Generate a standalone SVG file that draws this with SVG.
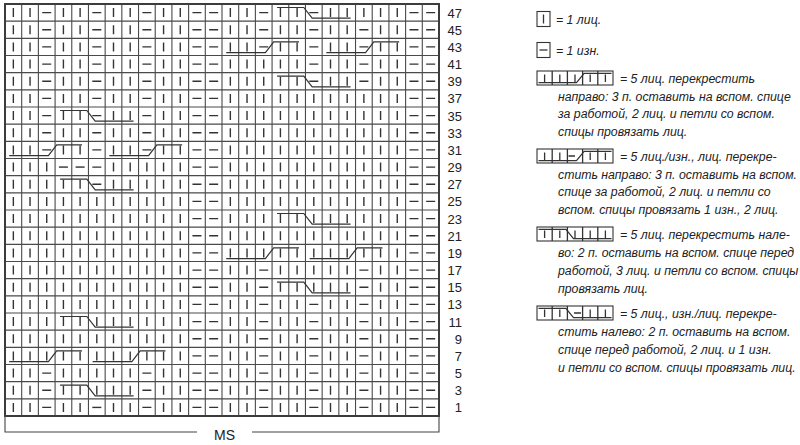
<svg xmlns="http://www.w3.org/2000/svg" width="800" height="445" viewBox="0 0 800 445">
<style>
.bg{fill:#fff}
.grid{fill:none;stroke:#4a4a4a;stroke-width:1.1}
.border{fill:none;stroke:#3c3c3c;stroke-width:2}
.k{stroke:#333;stroke-width:1.4;stroke-dasharray:9 8.167;fill:none}
.p{stroke:#333;stroke-width:9;stroke-dasharray:1.4 15.767;fill:none}
.cab{fill:none;stroke:#333;stroke-width:1.2}
.num{font-family:"Liberation Sans",Arial,sans-serif;font-size:13px;fill:#222;text-anchor:end}
.ms{font-family:"Liberation Sans",Arial,sans-serif;font-size:14px;fill:#222;text-anchor:middle}
.lg{font-family:"Liberation Sans",Arial,sans-serif;font-size:12.3px;font-style:italic;fill:#222}
.box{fill:#fff;stroke:#333;stroke-width:1.1}
.m{stroke:#333;stroke-width:1.3;fill:none}
.br{fill:none;stroke:#444;stroke-width:1.1}
</style>
<defs>
<path id="lc" class="cab" d="M5,3.5H31.7L40.1,14.2H78.5"/>
<path id="rc" class="cab" d="M4.2,14.2H43.4L51.7,3.5H77"/>
</defs>
<rect class="bg" x="0" y="0" width="800" height="445"/>
<g id="chart">
<g id="grid">
<path class="grid" d="M21.69 4V416M38.38 4V416M55.08 4V416M71.77 4V416M88.46 4V416M105.15 4V416M121.84 4V416M138.54 4V416M155.23 4V416M171.92 4V416M188.61 4V416M205.3 4V416M222 4V416M238.69 4V416M255.38 4V416M272.07 4V416M288.76 4V416M305.46 4V416M322.15 4V416M338.84 4V416M355.53 4V416M372.22 4V416M388.92 4V416M405.61 4V416M422.3 4V416M5 21.17H439M5 38.33H439M5 55.5H439M5 72.67H439M5 89.83H439M5 107H439M5 124.17H439M5 141.33H439M5 158.5H439M5 175.67H439M5 192.83H439M5 210H439M5 227.17H439M5 244.33H439M5 261.5H439M5 278.67H439M5 295.83H439M5 313H439M5 330.17H439M5 347.33H439M5 364.5H439M5 381.67H439M5 398.83H439"/>
<rect class="border" x="5" y="4" width="434" height="412"/>
</g>
<g id="knit">
<line class="k" x1="13.35" y1="8.08" x2="13.35" y2="411.92"/>
<line class="k" x1="30.04" y1="8.08" x2="30.04" y2="411.92"/>
<line class="k" x1="46.73" y1="162.58" x2="46.73" y2="360.42"/>
<line class="k" x1="63.42" y1="8.08" x2="63.42" y2="154.42"/>
<line class="k" x1="63.42" y1="179.75" x2="63.42" y2="411.92"/>
<line class="k" x1="80.11" y1="8.08" x2="80.11" y2="154.42"/>
<line class="k" x1="80.11" y1="179.75" x2="80.11" y2="411.92"/>
<line class="k" x1="96.81" y1="196.92" x2="96.81" y2="394.75"/>
<line class="k" x1="113.5" y1="8.08" x2="113.5" y2="411.92"/>
<line class="k" x1="130.19" y1="8.08" x2="130.19" y2="411.92"/>
<line class="k" x1="146.88" y1="162.58" x2="146.88" y2="360.42"/>
<line class="k" x1="163.57" y1="8.08" x2="163.57" y2="411.92"/>
<line class="k" x1="180.27" y1="8.08" x2="180.27" y2="411.92"/>
<line class="k" x1="230.34" y1="8.08" x2="230.34" y2="411.92"/>
<line class="k" x1="247.03" y1="8.08" x2="247.03" y2="411.92"/>
<line class="k" x1="263.73" y1="59.58" x2="263.73" y2="257.42"/>
<line class="k" x1="280.42" y1="8.08" x2="280.42" y2="411.92"/>
<line class="k" x1="297.11" y1="8.08" x2="297.11" y2="411.92"/>
<line class="k" x1="313.8" y1="93.92" x2="313.8" y2="291.75"/>
<line class="k" x1="330.5" y1="8.08" x2="330.5" y2="411.92"/>
<line class="k" x1="347.19" y1="8.08" x2="347.19" y2="411.92"/>
<line class="k" x1="363.88" y1="8.08" x2="363.88" y2="17.08"/>
<line class="k" x1="363.88" y1="93.92" x2="363.88" y2="257.42"/>
<line class="k" x1="380.57" y1="8.08" x2="380.57" y2="411.92"/>
<line class="k" x1="397.26" y1="8.08" x2="397.26" y2="411.92"/>
</g>
<g id="purl">
<line class="p" x1="46.73" y1="11.88" x2="46.73" y2="150.62"/>
<line class="p" x1="46.73" y1="372.38" x2="46.73" y2="408.12"/>
<line class="p" x1="63.42" y1="166.38" x2="63.42" y2="167.78"/>
<line class="p" x1="80.11" y1="166.38" x2="80.11" y2="167.78"/>
<line class="p" x1="96.81" y1="11.88" x2="96.81" y2="184.95"/>
<line class="p" x1="96.81" y1="406.72" x2="96.81" y2="408.12"/>
<line class="p" x1="146.88" y1="11.88" x2="146.88" y2="150.62"/>
<line class="p" x1="146.88" y1="372.38" x2="146.88" y2="408.12"/>
<line class="p" x1="196.96" y1="11.88" x2="196.96" y2="408.12"/>
<line class="p" x1="213.65" y1="11.88" x2="213.65" y2="408.12"/>
<line class="p" x1="263.73" y1="11.88" x2="263.73" y2="47.62"/>
<line class="p" x1="263.73" y1="269.38" x2="263.73" y2="408.12"/>
<line class="p" x1="313.8" y1="11.88" x2="313.8" y2="81.95"/>
<line class="p" x1="313.8" y1="303.72" x2="313.8" y2="408.12"/>
<line class="p" x1="363.88" y1="29.05" x2="363.88" y2="81.95"/>
<line class="p" x1="363.88" y1="269.38" x2="363.88" y2="408.12"/>
<line class="p" x1="413.96" y1="11.88" x2="413.96" y2="408.12"/>
<line class="p" x1="430.65" y1="11.88" x2="430.65" y2="408.12"/>
</g>
<g id="cables">
<use href="#lc" x="272.07" y="4"/>
<use href="#rc" x="222" y="38.33"/>
<use href="#rc" x="322.15" y="38.33"/>
<use href="#lc" x="272.07" y="72.67"/>
<use href="#lc" x="55.08" y="107"/>
<use href="#rc" x="5" y="141.33"/>
<use href="#rc" x="105.15" y="141.33"/>
<use href="#lc" x="55.08" y="175.67"/>
<use href="#lc" x="272.07" y="210"/>
<use href="#rc" x="222" y="244.33"/>
<use href="#rc" x="305.46" y="244.33"/>
<use href="#lc" x="272.07" y="278.67"/>
<use href="#lc" x="55.08" y="313"/>
<use href="#rc" x="5" y="347.33"/>
<use href="#rc" x="88.46" y="347.33"/>
<use href="#lc" x="55.08" y="381.67"/>
</g>
<g id="row-numbers" class="num">
<text x="462" y="17.5">47</text>
<text x="462" y="34.6">45</text>
<text x="462" y="51.8">43</text>
<text x="462" y="69">41</text>
<text x="462" y="86.2">39</text>
<text x="462" y="103.3">37</text>
<text x="462" y="120.5">35</text>
<text x="462" y="137.7">33</text>
<text x="462" y="154.8">31</text>
<text x="462" y="172">29</text>
<text x="462" y="189.2">27</text>
<text x="462" y="206.3">25</text>
<text x="462" y="223.5">23</text>
<text x="462" y="240.7">21</text>
<text x="462" y="257.8">19</text>
<text x="462" y="275">17</text>
<text x="462" y="292.2">15</text>
<text x="462" y="309.3">13</text>
<text x="462" y="326.5">11</text>
<text x="462" y="343.7">9</text>
<text x="462" y="360.8">7</text>
<text x="462" y="378">5</text>
<text x="462" y="395.2">3</text>
<text x="462" y="412.3">1</text>
</g>
<g id="repeat">
<path class="br" d="M5 416V432H197M252 432H439V416"/>
<text class="ms" x="224.5" y="439.5">MS</text>
</g>
</g>
<g id="legend">
<g id="legend-knit">
<rect class="box" x="537" y="11.5" width="13" height="15"/>
<line class="m" x1="543.5" y1="14.5" x2="543.5" y2="23.5"/>
<text class="lg" x="556" y="23.5">= 1 лиц.</text>
</g>
<g id="legend-purl">
<rect class="box" x="537" y="42.5" width="13" height="15"/>
<line class="m" x1="539.5" y1="50" x2="547.5" y2="50"/>
<text class="lg" x="556" y="54.5">= 1 изн.</text>
</g>
<g id="legend-rc">
<rect class="box" x="537" y="71" width="76" height="14"/>
<path class="m" d="M552.2 71V85M567.4 71V85M582.6 71V85M597.8 71V85"/>
<path class="m" d="M544.6 74.5V82M559.8 74.5V82M575 74.5V82M590.2 74.5V82M605.4 74.5V82"/>
<path class="cab" d="M538.5 82.7H576.5L584.1 73.3H611.5"/>
<text class="lg" x="620" y="82.5">= 5 лиц. перекрестить</text>
<text class="lg" x="558" y="100.5">направо: 3 п. оставить на вспом. спице</text>
<text class="lg" x="558" y="118">за работой, 2 лиц. и петли со вспом.</text>
<text class="lg" x="558" y="135.5">спицы провязать лиц.</text>
</g>
<g id="legend-rcp">
<rect class="box" x="537" y="149" width="76" height="14"/>
<path class="m" d="M552.2 149V163M567.4 149V163M582.6 149V163M597.8 149V163"/>
<path class="m" d="M544.6 152.5V160M559.8 152.5V160M590.2 152.5V160M605.4 152.5V160M568.5 156H575"/>
<path class="cab" d="M538.5 160.7H576.5L584.1 151.3H611.5"/>
<text class="lg" x="620" y="160.5">= 5 лиц./изн., лиц. перекре-</text>
<text class="lg" x="558" y="178.5">стить направо: 3 п. оставить на вспом.</text>
<text class="lg" x="558" y="196">спице за работой, 2 лиц. и петли со</text>
<text class="lg" x="558" y="213.5">вспом. спицы провязать 1 изн., 2 лиц.</text>
</g>
<g id="legend-lc">
<rect class="box" x="537" y="227" width="76" height="14"/>
<path class="m" d="M552.2 227V241M567.4 227V241M582.6 227V241M597.8 227V241"/>
<path class="m" d="M544.6 230.5V238M559.8 230.5V238M575 230.5V238M590.2 230.5V238M605.4 230.5V238"/>
<path class="cab" d="M538.5 229.3H565.9L573.5 238.7H611.5"/>
<text class="lg" x="620" y="238.5">= 5 лиц. перекрестить нале-</text>
<text class="lg" x="558" y="256.5">во: 2 п. оставить на вспом. спице перед</text>
<text class="lg" x="558" y="274.5">работой, 3 лиц. и петли со вспом. спицы</text>
<text class="lg" x="558" y="292.5">провязать лиц.</text>
</g>
<g id="legend-lcp">
<rect class="box" x="537" y="306" width="76" height="14"/>
<path class="m" d="M552.2 306V320M567.4 306V320M582.6 306V320M597.8 306V320"/>
<path class="m" d="M544.6 309.5V317M559.8 309.5V317M590.2 309.5V317M605.4 309.5V317M574 313H581"/>
<path class="cab" d="M538.5 308.3H565.9L573.5 317.7H611.5"/>
<text class="lg" x="620" y="317.5">= 5 лиц., изн./лиц. перекре-</text>
<text class="lg" x="558" y="335.5">стить налево: 2 п. оставить на вспом.</text>
<text class="lg" x="558" y="353.5">спице перед работой, 2 лиц. и 1 изн.</text>
<text class="lg" x="558" y="371.5">и петли со вспом. спицы провязать лиц.</text>
</g>
</g>
</svg>
